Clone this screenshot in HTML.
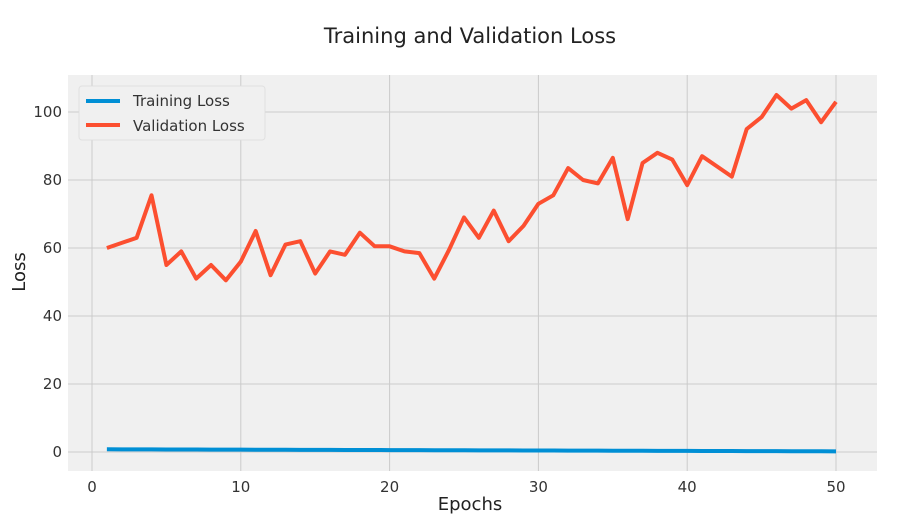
<!DOCTYPE html>
<html><head><meta charset="utf-8"><style>
html,body{margin:0;padding:0;background:#fff;}
svg{display:block;font-family:"DejaVu Sans","Liberation Sans",sans-serif;}
</style></head><body>
<svg id="s" width="901" height="531" viewBox="0 0 901 531" xmlns="http://www.w3.org/2000/svg">
<rect x="0" y="0" width="901" height="531" fill="#fff"/>
<text x="470" y="43" font-size="21" text-anchor="middle" fill="#222">Training and Validation Loss</text>
<rect x="68" y="75" width="809" height="396" fill="#f0f0f0"/>
<g id="grid" stroke="#cbcbcb" stroke-width="1"></g>
<g id="labels" font-size="15" fill="#333"></g>
<text x="470" y="510" font-size="18" text-anchor="middle" fill="#222">Epochs</text>
<text transform="translate(25,272) rotate(-90)" font-size="18" text-anchor="middle" fill="#222">Loss</text>
<polyline id="tr" fill="none" stroke="#008fd5" stroke-width="4" stroke-linejoin="round"/>
<polyline id="va" fill="none" stroke="#fc4f30" stroke-width="4" stroke-linejoin="round"/>
<rect x="79" y="86" width="186" height="54" rx="3" fill="#f0f0f0" stroke="#dcdcdc" stroke-opacity="0.8"/>
<line x1="86" y1="101" x2="120" y2="101" stroke="#008fd5" stroke-width="4"/>
<line x1="86" y1="125" x2="120" y2="125" stroke="#fc4f30" stroke-width="4"/>
<text x="133" y="106" font-size="15" fill="#333">Training Loss</text>
<text x="133" y="131" font-size="15" fill="#333">Validation Loss</text>
</svg>
<script>
var X=function(e){return 92+e*(836-92)/50;},Y=function(v){return 452-v*3.4;};
var g=document.getElementById('grid'),L=document.getElementById('labels'),ns='http://www.w3.org/2000/svg';
function mk(p,t,a){var e=document.createElementNS(ns,t);for(var k in a)e.setAttribute(k,a[k]);p.appendChild(e);return e;}
for(var i=0;i<=50;i+=10){mk(g,'line',{x1:X(i),x2:X(i),y1:75,y2:471});var t=mk(L,'text',{x:X(i),y:492,'text-anchor':'middle'});t.textContent=i;}
for(var v=0;v<=100;v+=20){mk(g,'line',{x1:68,x2:877,y1:Y(v),y2:Y(v)});var t=mk(L,'text',{x:62,y:Y(v)+5,'text-anchor':'end'});t.textContent=v;}
var val=[60,61.5,63,75.5,55,59,51,55,50.5,56,65,52,61,62,52.5,59,58,64.5,60.5,60.5,59,58.5,51,59.5,69,63,71,62,66.5,73,75.5,83.5,80,79,86.5,68.5,85,88,86,78.5,87,84,81,95,98.5,105,101,103.5,97,103];
var p='',q='';for(var i=0;i<50;i++){p+=X(i+1)+','+Y(val[i])+' ';q+=X(i+1)+','+Y(0.8-0.6*i/49)+' ';}
document.getElementById('va').setAttribute('points',p);document.getElementById('tr').setAttribute('points',q);
</script>
</body></html>
